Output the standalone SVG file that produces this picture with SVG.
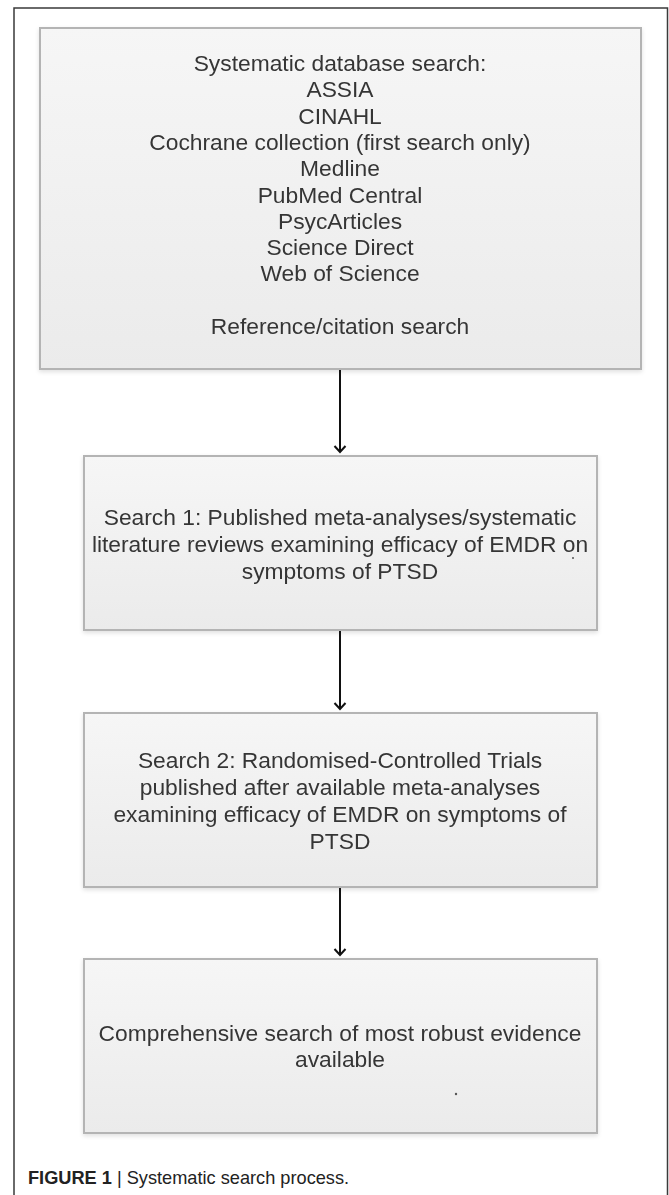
<svg xmlns="http://www.w3.org/2000/svg" width="669" height="1195" viewBox="0 0 669 1195">
<style>
.frame{fill:none;stroke:#3a3a3a;stroke-width:1.5}
.box{stroke:#b4b4b4;stroke-width:2;fill:url(#g)}
.t{font-family:"Liberation Sans",Arial,sans-serif;font-size:22.8px;fill:#363636;text-anchor:middle}
.conn{stroke:#111;stroke-width:2;fill:none}
.cap{font-family:"Liberation Sans",Arial,sans-serif;font-size:18.2px;fill:#222}
</style>
<defs>
<linearGradient id="g" x1="0" y1="0" x2="0" y2="1">
<stop offset="0" stop-color="#f6f6f6"/>
<stop offset="1" stop-color="#ebebeb"/>
</linearGradient>
<filter id="sh" x="-5%" y="-5%" width="110%" height="115%">
<feDropShadow dx="0" dy="2" stdDeviation="2" flood-color="#000" flood-opacity="0.12"/>
</filter>
<marker id="ah" markerWidth="14" markerHeight="14" refX="11" refY="7" orient="auto" markerUnits="userSpaceOnUse" viewBox="0 0 14 14">
<path d="M5 1.5 L11 7 L5 12.5" fill="none" stroke="#111" stroke-width="2"/>
</marker>
</defs>
<rect width="669" height="1195" fill="#fff"/>
<path class="frame" d="M14 1195 V8 H667.5 V1195"/>

<g id="n1" filter="url(#sh)">
<rect class="box" x="40" y="28" width="601" height="341"/>
<text class="t" x="340" y="71">Systematic database search:</text>
<text class="t" x="340" y="97.3">ASSIA</text>
<text class="t" x="340" y="123.6">CINAHL</text>
<text class="t" x="340" y="149.9">Cochrane collection (first search only)</text>
<text class="t" x="340" y="176.2">Medline</text>
<text class="t" x="340" y="202.5">PubMed Central</text>
<text class="t" x="340" y="228.8">PsycArticles</text>
<text class="t" x="340" y="255.1">Science Direct</text>
<text class="t" x="340" y="281.4">Web of Science</text>
<text class="t" x="340" y="334">Reference/citation search</text>
</g>

<g id="n2" filter="url(#sh)">
<rect class="box" x="84" y="456" width="513" height="174"/>
<text class="t" x="340" y="525">Search 1: Published meta-analyses/systematic</text>
<text class="t" x="340" y="552">literature reviews examining efficacy of EMDR on</text>
<text class="t" x="340" y="579">symptoms of PTSD</text>
<circle cx="573" cy="558" r="1" fill="#555"/>
</g>

<g id="n3" filter="url(#sh)">
<rect class="box" x="84" y="713" width="513" height="174"/>
<text class="t" x="340" y="768">Search 2: Randomised-Controlled Trials</text>
<text class="t" x="340" y="795">published after available meta-analyses</text>
<text class="t" x="340" y="822">examining efficacy of EMDR on symptoms of</text>
<text class="t" x="340" y="849">PTSD</text>
</g>

<g id="n4" filter="url(#sh)">
<rect class="box" x="84" y="959" width="513" height="174"/>
<text class="t" x="340" y="1041">Comprehensive search of most robust evidence</text>
<text class="t" x="340" y="1067">available</text>
<circle cx="456" cy="1094" r="1.2" fill="#555"/>
</g>

<g id="connectors">
<line class="conn" x1="340" y1="370" x2="340" y2="452" marker-end="url(#ah)"/>
<line class="conn" x1="340" y1="631" x2="340" y2="709" marker-end="url(#ah)"/>
<line class="conn" x1="340" y1="888" x2="340" y2="955" marker-end="url(#ah)"/>
</g>

<text class="cap" x="28" y="1184"><tspan font-weight="bold">FIGURE 1</tspan> | Systematic search process.</text>
</svg>
